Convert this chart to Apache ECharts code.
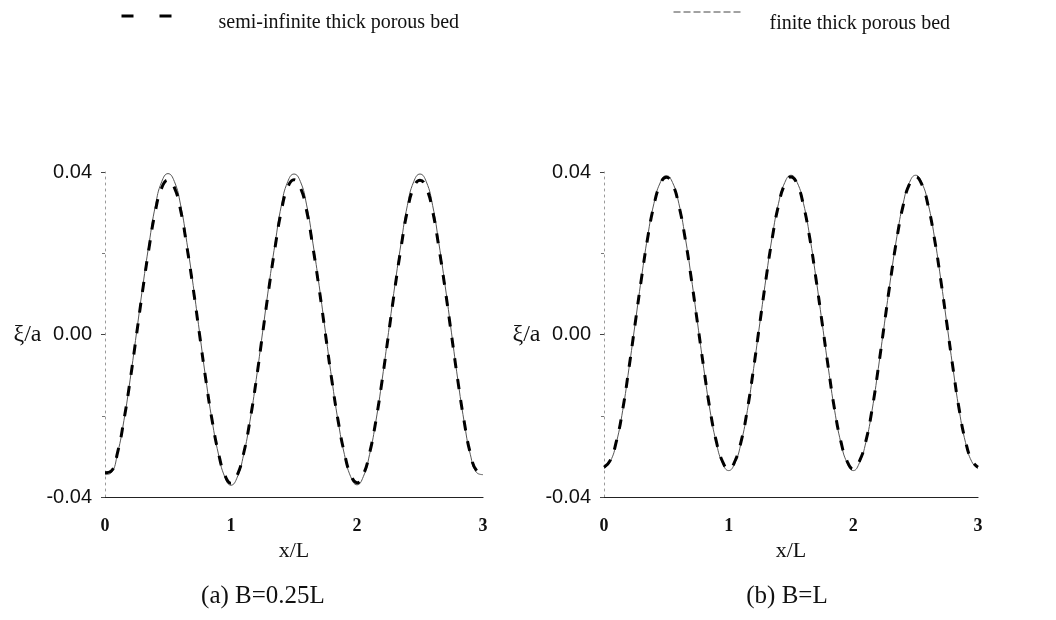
<!DOCTYPE html>
<html>
<head>
<meta charset="utf-8">
<script src="https://cdn.jsdelivr.net/npm/echarts@6/dist/echarts.min.js"></script>
<style>
  html, body { margin: 0; padding: 0; background: #ffffff; }
  #chart { width: 1056px; height: 620px; }
</style>
</head>
<body>
<div id="chart"></div>
<script>
// Bed surface displacement xi/a along x/L, three wavelengths, two bed models.
const xs = [0.00,0.05,0.10,0.15,0.20,0.25,0.30,0.35,0.40,0.45,0.50,0.55,0.60,0.65,0.70,0.75,0.80,0.85,0.90,0.95,
            1.00,1.05,1.10,1.15,1.20,1.25,1.30,1.35,1.40,1.45,1.50,1.55,1.60,1.65,1.70,1.75,1.80,1.85,1.90,1.95,
            2.00,2.05,2.10,2.15,2.20,2.25,2.30,2.35,2.40,2.45,2.50,2.55,2.60,2.65,2.70,2.75,2.80,2.85,2.90,2.95,3.00];

// (a) B = 0.25L
const semiInfiniteA = [-0.0340,-0.0336,-0.0290,-0.0211,-0.0112,-0.0001,0.0111,0.0214,0.0304,0.0361,0.0380,0.0362,0.0306,0.0216,0.0113,0.0001,-0.0111,-0.0211,-0.0291,-0.0345,
                       -0.0366,-0.0346,-0.0293,-0.0213,-0.0113,0.0000,0.0112,0.0215,0.0305,0.0362,0.0381,0.0362,0.0305,0.0215,0.0112,0.0000,-0.0112,-0.0212,-0.0292,-0.0345,
                       -0.0365,-0.0345,-0.0292,-0.0212,-0.0112,0.0000,0.0112,0.0215,0.0305,0.0362,0.0380,0.0361,0.0304,0.0214,0.0111,-0.0001,-0.0113,-0.0213,-0.0293,-0.0335,-0.0340];
const finiteA = [-0.0345,-0.0340,-0.0292,-0.0212,-0.0110,0.0004,0.0119,0.0224,0.0317,0.0376,0.0396,0.0377,0.0319,0.0226,0.0121,0.0006,-0.0109,-0.0212,-0.0294,-0.0350,
                 -0.0371,-0.0351,-0.0296,-0.0214,-0.0111,0.0004,0.0119,0.0224,0.0318,0.0376,0.0395,0.0377,0.0319,0.0225,0.0120,0.0005,-0.0110,-0.0213,-0.0295,-0.0350,
                 -0.0370,-0.0350,-0.0295,-0.0213,-0.0110,0.0005,0.0120,0.0225,0.0318,0.0376,0.0395,0.0376,0.0318,0.0224,0.0119,0.0004,-0.0111,-0.0214,-0.0296,-0.0340,-0.0345];

// (b) B = L
const semiInfiniteB = [-0.0327,-0.0310,-0.0262,-0.0185,-0.0083,0.0027,0.0137,0.0237,0.0317,0.0369,0.0387,0.0370,0.0318,0.0238,0.0138,0.0028,-0.0082,-0.0184,-0.0262,-0.0312,
                       -0.0331,-0.0312,-0.0263,-0.0185,-0.0083,0.0028,0.0138,0.0238,0.0318,0.0370,0.0388,0.0370,0.0318,0.0238,0.0138,0.0028,-0.0083,-0.0185,-0.0263,-0.0312,
                       -0.0331,-0.0311,-0.0263,-0.0185,-0.0083,0.0028,0.0138,0.0238,0.0318,0.0370,0.0388,0.0369,0.0317,0.0237,0.0137,0.0027,-0.0084,-0.0186,-0.0263,-0.0310,-0.0327];
const finiteB = [-0.0330,-0.0313,-0.0265,-0.0187,-0.0084,0.0027,0.0139,0.0241,0.0322,0.0373,0.0391,0.0374,0.0323,0.0242,0.0141,0.0029,-0.0083,-0.0186,-0.0265,-0.0316,
                 -0.0335,-0.0316,-0.0266,-0.0187,-0.0084,0.0028,0.0140,0.0242,0.0323,0.0374,0.0392,0.0374,0.0323,0.0242,0.0140,0.0028,-0.0084,-0.0187,-0.0266,-0.0316,
                 -0.0335,-0.0315,-0.0266,-0.0187,-0.0084,0.0028,0.0140,0.0242,0.0323,0.0374,0.0392,0.0373,0.0322,0.0241,0.0139,0.0027,-0.0085,-0.0188,-0.0266,-0.0313,-0.0330];

const xTicks = [0, 1, 2, 3];
const yTicks = [-0.04, 0.00, 0.04];
const seriesNames = ['semi-infinite thick porous bed', 'finite thick porous bed'];
const panelCaptions = ['(a) B=0.25L', '(b) B=L'];

const SERIF = '"Liberation Serif", "DejaVu Serif", serif';
const SANS = '"Liberation Sans", Arial, sans-serif';

function pairs(values) {
  return values.map((v, i) => [xs[i], v]);
}

function xAxisFor(gridIndex) {
  return {
    type: 'value', gridIndex: gridIndex,
    min: xTicks[0], max: xTicks[xTicks.length - 1], interval: 1,
    name: 'x/L', nameLocation: 'middle', nameGap: 40,
    nameTextStyle: { fontFamily: SERIF, fontSize: 22, color: '#111' },
    axisLine: { show: true, onZero: false, lineStyle: { color: '#222', width: 1.2 } },
    axisTick: { show: false },
    axisLabel: { fontFamily: SERIF, fontSize: 18, fontWeight: 'bold', color: '#111', margin: 20 },
    splitLine: { show: false }
  };
}

function yAxisFor(gridIndex) {
  return {
    type: 'value', gridIndex: gridIndex,
    min: yTicks[0], max: yTicks[yTicks.length - 1], interval: 0.04,
    name: 'ξ/a', nameLocation: 'middle', nameRotate: 0, nameGap: 50,
    nameTextStyle: { fontFamily: SERIF, fontSize: 24, color: '#111' },
    axisLine: { show: true, lineStyle: { color: '#9a9a9a', width: 1, type: [2, 4] } },
    axisTick: { show: true, length: 4, lineStyle: { color: '#444' } },
    minorTick: { show: true, splitNumber: 2, length: 3, lineStyle: { color: '#777' } },
    axisLabel: { fontFamily: SANS, fontSize: 20, color: '#111', margin: 13,
                 formatter: v => v.toFixed(2) },
    splitLine: { show: false }
  };
}

const dashedStyle = { color: '#000', width: 3, type: [10, 11] };
const solidStyle = { color: '#555', width: 1 };

function lineSeries(name, values, idx, style) {
  return {
    name: name, type: 'line', xAxisIndex: idx, yAxisIndex: idx,
    data: pairs(values), showSymbol: false, symbol: 'none',
    smooth: true, lineStyle: style, itemStyle: { color: style.color },
    silent: true, animation: false, z: style.width > 2 ? 3 : 2
  };
}

// legend labels sit a little below their line samples
function legendFor(name, left, top, itemWidth, lineStyle, gap, drop) {
  return {
    data: [name], left: left, top: top,
    itemWidth: itemWidth, itemHeight: 10,
    itemStyle: { opacity: 0 },
    lineStyle: lineStyle,
    selectedMode: false,
    formatter: n => '{t|' + n + '}',
    textStyle: {
      rich: {
        t: { fontFamily: SERIF, fontSize: 20, color: '#111', padding: [drop, 0, 0, gap] }
      }
    }
  };
}

const chart = echarts.init(document.getElementById('chart'), null, { renderer: 'canvas' });

chart.setOption({
  backgroundColor: '#ffffff',
  animation: false,
  legend: [
    legendFor(seriesNames[0], 115, 7, 52, { type: [12, 26], width: 3, color: '#000' }, 40, 14),
    legendFor(seriesNames[1], 668, 3, 70, { type: [7, 3], width: 1, color: '#444' }, 21, 23)
  ],
  grid: [
    { left: 105, top: 172, width: 378, height: 325 },
    { left: 604, top: 172, width: 374, height: 325 }
  ],
  xAxis: [xAxisFor(0), xAxisFor(1)],
  yAxis: [yAxisFor(0), yAxisFor(1)],
  series: [
    lineSeries(seriesNames[0], semiInfiniteA, 0, dashedStyle),
    lineSeries(seriesNames[1], finiteA, 0, solidStyle),
    lineSeries(seriesNames[0], semiInfiniteB, 1, dashedStyle),
    lineSeries(seriesNames[1], finiteB, 1, solidStyle)
  ],
  graphic: [
    { type: 'text', x: 263, y: 596,
      style: { text: panelCaptions[0], fontFamily: SERIF, fontSize: 25, fill: '#111',
               align: 'center', verticalAlign: 'middle' } },
    { type: 'text', x: 787, y: 596,
      style: { text: panelCaptions[1], fontFamily: SERIF, fontSize: 25, fill: '#111',
               align: 'center', verticalAlign: 'middle' } }
  ]
});
</script>
</body>
</html>
